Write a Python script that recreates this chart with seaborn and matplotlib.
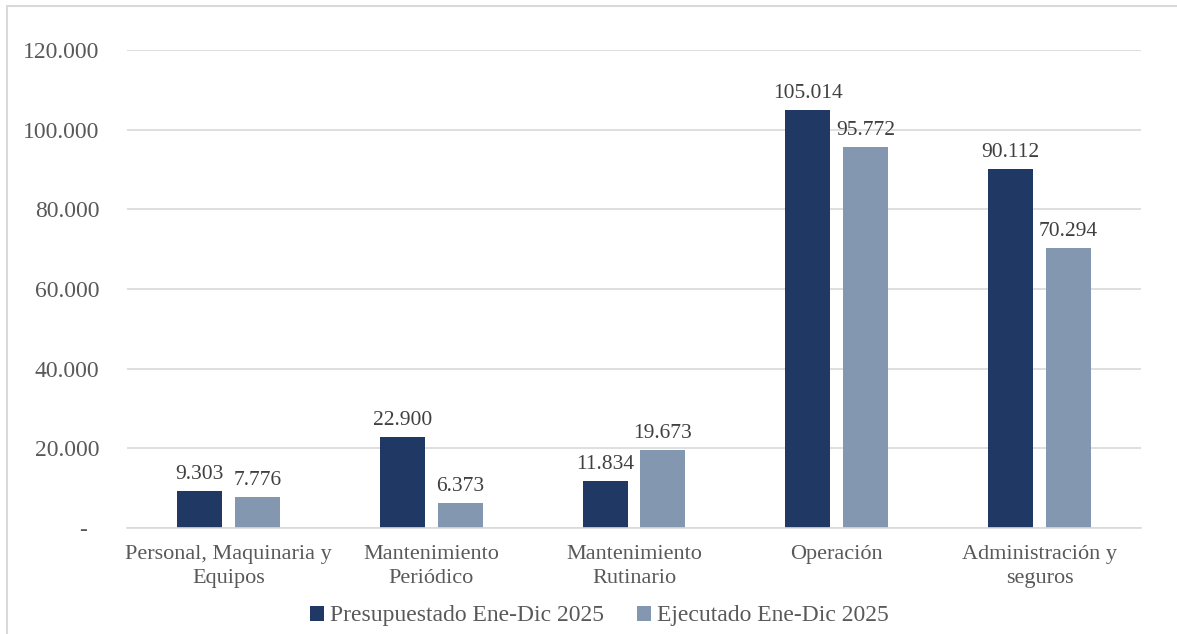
import matplotlib
matplotlib.use("Agg")
import matplotlib.pyplot as plt
import seaborn as sns
import pandas as pd
from matplotlib.patches import Rectangle
from matplotlib.ticker import FuncFormatter

categories = ["Personal, Maquinaria y\nEquipos", "Mantenimiento\nPeriódico",
              "Mantenimiento\nRutinario", "Operación", "Administración y\nseguros"]
presupuestado = [9303, 22900, 11834, 105014, 90112]
ejecutado = [7776, 6373, 19673, 95772, 70294]
series_names = ["Presupuestado Ene-Dic 2025", "Ejecutado Ene-Dic 2025"]
yticks = [0, 20000, 40000, 60000, 80000, 100000, 120000]

df = pd.DataFrame({
    "Categoria": categories * 2,
    "Serie": [series_names[0]] * len(categories) + [series_names[1]] * len(categories),
    "Valor": presupuestado + ejecutado,
})

sns.set_theme(style="white")
plt.rcParams["font.family"] = ["Liberation Serif", "DejaVu Serif"]

colors = ["#203864", "#8497B0"]
fig = plt.figure(figsize=(11.77, 6.34), dpi=100)
ax = fig.add_axes([127 / 1177, 1 - 528 / 634, (1141 - 127) / 1177, (528 - 50) / 634])

sns.barplot(data=df, x="Categoria", y="Valor", hue="Serie", palette=colors,
            width=0.57, gap=0.22, ax=ax, legend=False, saturation=1,
            edgecolor="none", linewidth=0)

def fmt(v):
    return f"{v:,.0f}".replace(",", ".")

for cont in ax.containers:
    ax.bar_label(cont, labels=[fmt(b.get_height()) for b in cont], padding=5,
                 fontsize=15.5, color="#404040")

ax.set_ylim(0, 120000)
ax.set_xlim(-0.5, len(categories) - 0.5)
ax.set_yticks(yticks)
ax.yaxis.set_major_formatter(FuncFormatter(lambda v, p: "-  " if v == 0 else fmt(v)))
ax.grid(axis="y", color="#D9D9D9", linewidth=1.2)
ax.set_axisbelow(True)
for s in ["top", "right", "left"]:
    ax.spines[s].set_visible(False)
ax.spines["bottom"].set_color("#D9D9D9")
ax.spines["bottom"].set_linewidth(1.2)
ax.tick_params(axis="y", length=0, pad=20, labelsize=17, labelcolor="#595959")
ax.tick_params(axis="x", length=0, pad=12, labelsize=16, labelcolor="#595959")
for t in ax.get_xticklabels():
    t.set_linespacing(1.4)
ax.set_xlabel("")
ax.set_ylabel("")

handles = [Rectangle((0, 0), 1, 1, facecolor=c, edgecolor="none") for c in colors]
fig.legend(handles, series_names, loc="center", bbox_to_anchor=(599 / 1177, 1 - 616 / 634),
           ncol=2, frameon=False, fontsize=17, labelcolor="#595959",
           handlelength=0.6, handleheight=0.6, handletextpad=0.25, columnspacing=1.4)

fig.patches.append(Rectangle((7 / 1177, -0.05), 1.2, 1 - 6 / 634 + 0.05,
                             transform=fig.transFigure, fill=False,
                             edgecolor="#D9D9D9", linewidth=1.5))

fig.savefig("out.png", dpi=100, facecolor="white")
